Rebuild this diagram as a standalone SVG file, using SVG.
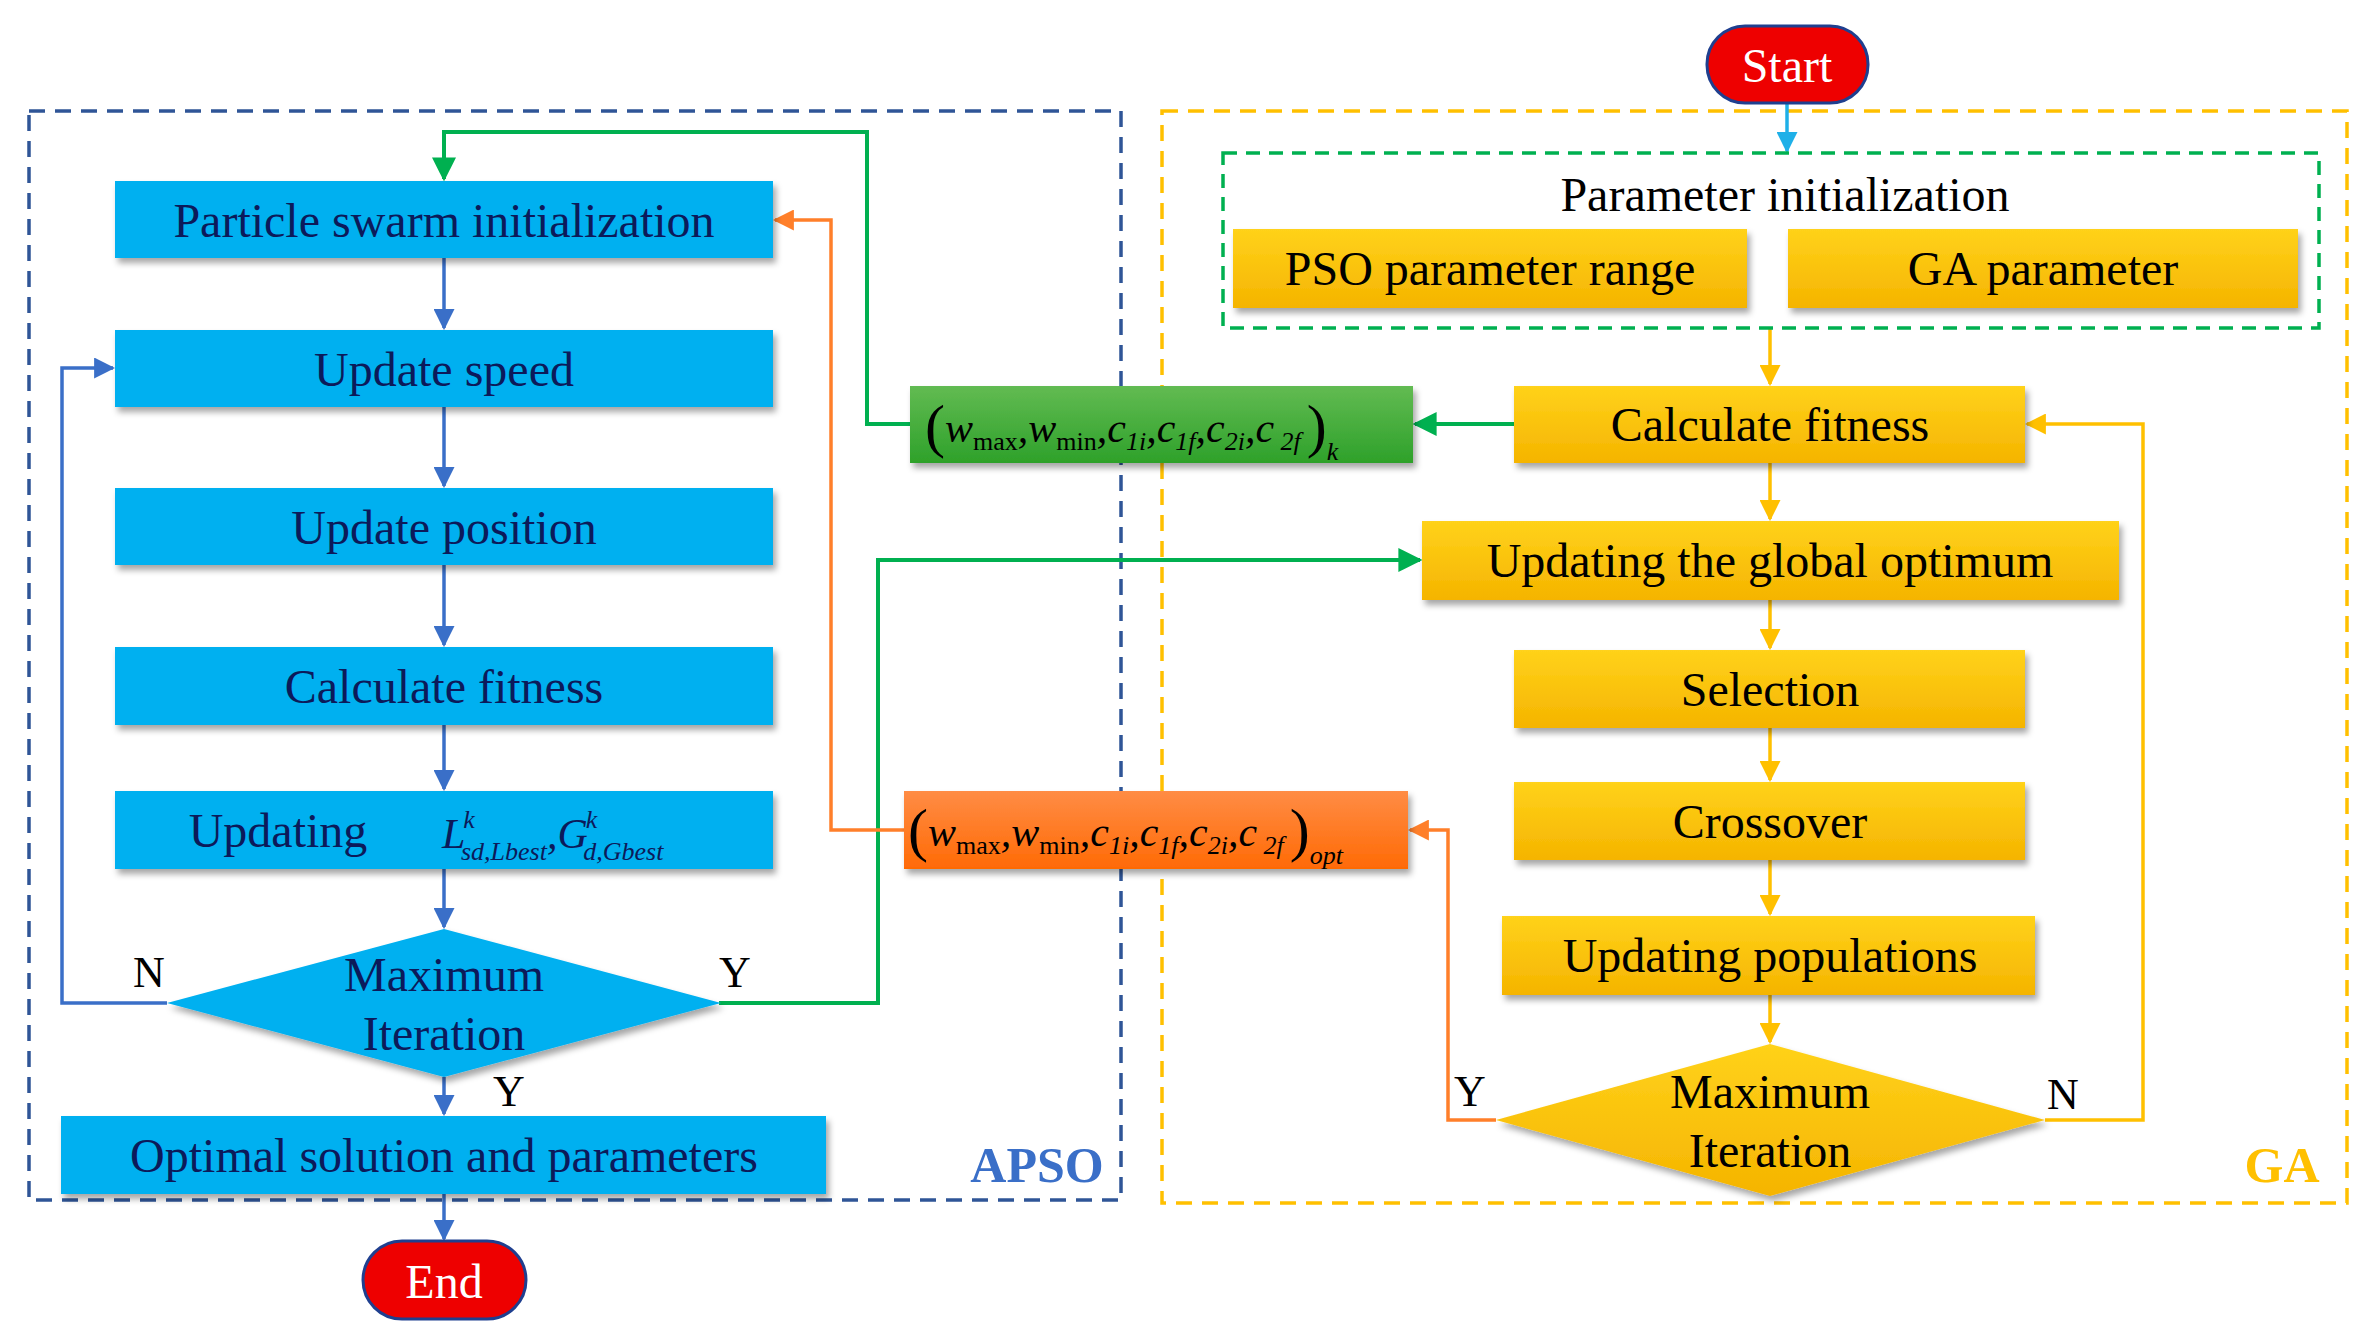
<svg xmlns="http://www.w3.org/2000/svg" width="2374" height="1341" viewBox="0 0 2374 1341">
<defs>
<filter id="sh" x="-5%" y="-10%" width="110%" height="130%"><feDropShadow dx="3" dy="5" stdDeviation="3" flood-color="#000" flood-opacity="0.35"/></filter>
<linearGradient id="gy" x1="0" y1="0" x2="0" y2="1"><stop offset="0" stop-color="#ffd21a"/><stop offset="1" stop-color="#f5b400"/></linearGradient>
<linearGradient id="gg" x1="0" y1="0" x2="0" y2="1"><stop offset="0" stop-color="#62bb52"/><stop offset="1" stop-color="#2ea12a"/></linearGradient>
<linearGradient id="go" x1="0" y1="0" x2="0" y2="1"><stop offset="0" stop-color="#ff8c45"/><stop offset="1" stop-color="#ff6a05"/></linearGradient>
<marker id="ab" viewBox="0 0 10 10" refX="9" refY="5" markerWidth="6" markerHeight="6" orient="auto"><path d="M0,0L10,5L0,10z" fill="#3a6fc8"/></marker>
<marker id="ac" viewBox="0 0 10 10" refX="9" refY="5" markerWidth="6" markerHeight="6" orient="auto"><path d="M0,0L10,5L0,10z" fill="#1fb0e8"/></marker>
<marker id="ay" viewBox="0 0 10 10" refX="9" refY="5" markerWidth="6" markerHeight="6" orient="auto"><path d="M0,0L10,5L0,10z" fill="#ffc000"/></marker>
<marker id="ag" viewBox="0 0 10 10" refX="9" refY="5" markerWidth="6" markerHeight="6" orient="auto"><path d="M0,0L10,5L0,10z" fill="#00b050"/></marker>
<marker id="ao" viewBox="0 0 10 10" refX="9" refY="5" markerWidth="6" markerHeight="6" orient="auto"><path d="M0,0L10,5L0,10z" fill="#ff7f2a"/></marker>
</defs>
<style>
text{font-family:"Liberation Serif",serif;text-anchor:middle;dominant-baseline:central}
.bt{font-size:48px;fill:#0c1a5a}
.yt{font-size:48px;fill:#000}
.blue{fill:#00b0f0;filter:url(#sh)}
.yel{fill:url(#gy);filter:url(#sh)}
.lbl{font-size:44px;fill:#000}
.m{font-size:42px;font-style:italic;fill:#000;text-anchor:start;dominant-baseline:auto}
.s{font-size:26px;font-style:normal}
.si{font-size:26px}
.cb{fill:none;stroke:#3a6fc8;stroke-width:3.5}
.cy{fill:none;stroke:#ffc000;stroke-width:3.5}
.cg{fill:none;stroke:#00b050;stroke-width:4}
.co{fill:none;stroke:#ff7f2a;stroke-width:3.5}
</style>
<rect width="2374" height="1341" fill="#fff"/>
<g id="apso-frame"><rect x="29" y="111" width="1092" height="1089" fill="none" stroke="#2f5597" stroke-width="3.5" stroke-dasharray="16,10"/><text x="1037" y="1165" style="font-size:50px;font-weight:bold;fill:#3a6fc8">APSO</text></g>
<g id="ga-frame"><rect x="1162" y="111" width="1185" height="1092" fill="none" stroke="#ffc000" stroke-width="3.5" stroke-dasharray="16,10"/><text x="2282" y="1165" style="font-size:50px;font-weight:bold;fill:#ffc000">GA</text></g>
<g id="connectors">
<line x1="1787" y1="103" x2="1787" y2="151" stroke="#1fb0e8" stroke-width="3.5" marker-end="url(#ac)"/>
<line x1="444" y1="258" x2="444" y2="328" class="cb" marker-end="url(#ab)"/>
<line x1="444" y1="407" x2="444" y2="486" class="cb" marker-end="url(#ab)"/>
<line x1="444" y1="565" x2="444" y2="645" class="cb" marker-end="url(#ab)"/>
<line x1="444" y1="725" x2="444" y2="789" class="cb" marker-end="url(#ab)"/>
<line x1="444" y1="869" x2="444" y2="927" class="cb" stroke-width="2" marker-end="url(#ab)"/>
<line x1="444" y1="1077" x2="444" y2="1114" class="cb" marker-end="url(#ab)"/>
<line x1="444" y1="1194" x2="444" y2="1239" class="cb" marker-end="url(#ab)"/>
<polyline points="167,1003 62,1003 62,368 113,368" class="cb" marker-end="url(#ab)"/>
<line x1="1770" y1="328" x2="1770" y2="384" class="cy" marker-end="url(#ay)"/>
<line x1="1770" y1="463" x2="1770" y2="519" class="cy" marker-end="url(#ay)"/>
<line x1="1770" y1="600" x2="1770" y2="648" class="cy" marker-end="url(#ay)"/>
<line x1="1770" y1="728" x2="1770" y2="780" class="cy" marker-end="url(#ay)"/>
<line x1="1770" y1="860" x2="1770" y2="914" class="cy" marker-end="url(#ay)"/>
<line x1="1770" y1="995" x2="1770" y2="1042" class="cy" marker-end="url(#ay)"/>
<polyline points="2045,1120 2143,1120 2143,424 2027,424" class="cy" marker-end="url(#ay)"/>
<line x1="1514" y1="424" x2="1415" y2="424" class="cg" marker-end="url(#ag)"/>
<polyline points="910,424 867,424 867,132 444,132 444,179" class="cg" marker-end="url(#ag)"/>
<polyline points="719,1003 878,1003 878,560 1420,560" class="cg" marker-end="url(#ag)"/>
<polyline points="904,830 831,830 831,220 775,220" class="co" marker-end="url(#ao)"/>
<polyline points="1496,1120 1448,1120 1448,830 1410,830" class="co" marker-end="url(#ao)"/>
</g>
<g id="start"><rect x="1707" y="26" width="161" height="77" rx="38" fill="#ee0000" stroke="#1f3f8f" stroke-width="3"/><text x="1787" y="65" style="font-size:48px;fill:#fff">Start</text></g>
<g id="param-init"><rect x="1223" y="153" width="1096" height="175" fill="none" stroke="#00b050" stroke-width="3.5" stroke-dasharray="14,9"/><text x="1785" y="194" class="yt">Parameter initialization</text></g>
<g id="pso-range"><rect x="1233" y="229" width="514" height="79" class="yel"/><text x="1490" y="268" class="yt">PSO parameter range</text></g>
<g id="ga-param"><rect x="1788" y="229" width="510" height="79" class="yel"/><text x="2043" y="268" class="yt">GA parameter</text></g>
<g id="ga-fitness"><rect x="1514" y="386" width="511" height="77" class="yel"/><text x="1770" y="424" class="yt">Calculate fitness</text></g>
<g id="global-opt"><rect x="1422" y="521" width="697" height="79" class="yel"/><text x="1770" y="560" class="yt">Updating the global optimum</text></g>
<g id="selection"><rect x="1514" y="650" width="511" height="78" class="yel"/><text x="1770" y="689" class="yt">Selection</text></g>
<g id="crossover"><rect x="1514" y="782" width="511" height="78" class="yel"/><text x="1770" y="821" class="yt">Crossover</text></g>
<g id="upd-pop"><rect x="1502" y="916" width="533" height="79" class="yel"/><text x="1770" y="955" class="yt">Updating populations</text></g>
<g id="ga-max"><polygon points="1496,1120 1770,1044 2045,1120 1770,1196" class="yel"/><text x="1770" y="1091" class="yt">Maximum</text><text x="1770" y="1150" class="yt">Iteration</text></g>
<g id="pso-init"><rect x="115" y="181" width="658" height="77" class="blue"/><text x="444" y="220" class="bt">Particle swarm initialization</text></g>
<g id="upd-speed"><rect x="115" y="330" width="658" height="77" class="blue"/><text x="444" y="369" class="bt">Update speed</text></g>
<g id="upd-pos"><rect x="115" y="488" width="658" height="77" class="blue"/><text x="444" y="527" class="bt">Update position</text></g>
<g id="pso-fitness"><rect x="115" y="647" width="658" height="78" class="blue"/><text x="444" y="686" class="bt">Calculate fitness</text></g>
<g id="upd-best"><rect x="115" y="791" width="658" height="78" class="blue"/><text x="278" y="830" class="bt">Updating</text>
<text x="442" y="848" class="m" style="fill:#0c1a5a">L<tspan class="si" dx="-2" dy="-20">k</tspan><tspan class="si" dx="-14" dy="32">sd,Lbest</tspan><tspan dy="-12">,G</tspan><tspan class="si" dx="-2" dy="-20">k</tspan><tspan class="si" dx="-14" dy="32">d,Gbest</tspan></text></g>
<g id="pso-max"><polygon points="167,1003 444,929 721,1003 444,1077" class="blue"/><text x="444" y="974" class="bt">Maximum</text><text x="444" y="1033" class="bt">Iteration</text></g>
<g id="optimal"><rect x="61" y="1116" width="765" height="78" class="blue"/><text x="444" y="1155" class="bt">Optimal solution and parameters</text></g>
<g id="end"><rect x="363" y="1241" width="163" height="78" rx="39" fill="#ee0000" stroke="#1f3f8f" stroke-width="3"/><text x="444" y="1281" style="font-size:48px;fill:#fff">End</text></g>
<g id="params-k"><rect x="910" y="386" width="503" height="77" fill="url(#gg)" filter="url(#sh)"/>
<text x="925" y="442" class="m"><tspan style="font-size:60px;font-style:normal" dy="4">(</tspan><tspan dy="-4">w</tspan><tspan class="s" dy="8">max</tspan><tspan dy="-8">,w</tspan><tspan class="s" dy="8">min</tspan><tspan dy="-8">,c</tspan><tspan class="si" dy="8">1i</tspan><tspan dy="-8">,c</tspan><tspan class="si" dy="8">1f</tspan><tspan dy="-8">,c</tspan><tspan class="si" dy="8">2i</tspan><tspan dy="-8">,c</tspan><tspan class="si" dy="8"> 2f</tspan><tspan style="font-size:60px;font-style:normal" dx="6" dy="-4">)</tspan><tspan class="si" dy="14">k</tspan></text></g>
<g id="params-opt"><rect x="904" y="791" width="504" height="78" fill="url(#go)" filter="url(#sh)"/>
<text x="908" y="846" class="m"><tspan style="font-size:60px;font-style:normal" dy="4">(</tspan><tspan dy="-4">w</tspan><tspan class="s" dy="8">max</tspan><tspan dy="-8">,w</tspan><tspan class="s" dy="8">min</tspan><tspan dy="-8">,c</tspan><tspan class="si" dy="8">1i</tspan><tspan dy="-8">,c</tspan><tspan class="si" dy="8">1f</tspan><tspan dy="-8">,c</tspan><tspan class="si" dy="8">2i</tspan><tspan dy="-8">,c</tspan><tspan class="si" dy="8"> 2f</tspan><tspan style="font-size:60px;font-style:normal" dx="6" dy="-4">)</tspan><tspan class="si" dy="14">opt</tspan></text></g>
<g id="labels"><text x="149" y="972" class="lbl">N</text><text x="735" y="972" class="lbl">Y</text><text x="509" y="1091" class="lbl">Y</text><text x="1470" y="1091" class="lbl">Y</text><text x="2063" y="1094" class="lbl">N</text></g>
</svg>
